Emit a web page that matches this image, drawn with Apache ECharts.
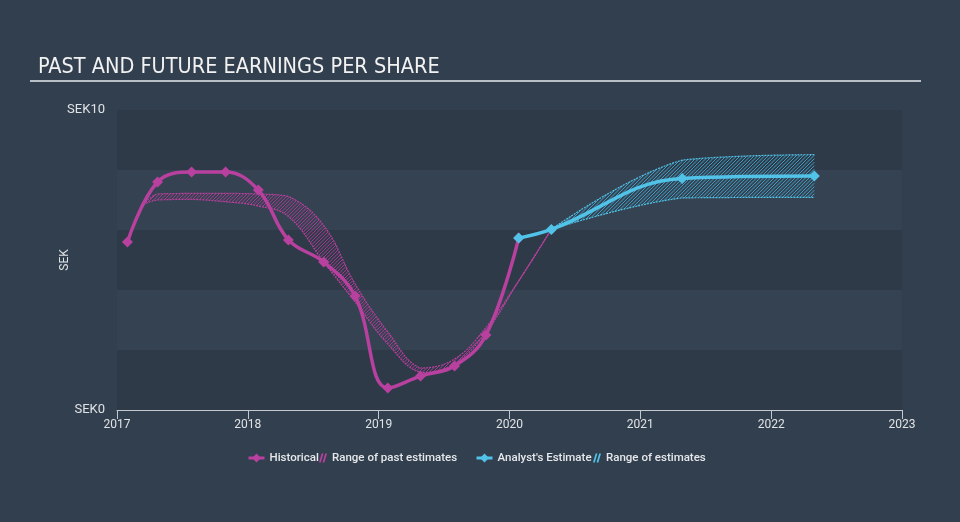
<!DOCTYPE html>
<html>
<head>
<meta charset="utf-8">
<script src="https://cdn.jsdelivr.net/npm/echarts@6/dist/echarts.min.js"></script>
<style>
html,body{margin:0;padding:0;background:#323f4e;}
#chart{width:960px;height:522px;}
</style>
</head>
<body>
<div id="chart"></div>
<script>
// ---- data ----
var histX = [2017.08, 2017.31, 2017.57, 2017.83, 2018.08, 2018.31, 2018.58, 2018.82, 2019.07, 2019.32, 2019.58, 2019.82, 2020.07];
var histY = [5.6, 7.6, 7.93, 7.93, 7.33, 5.67, 4.93, 3.8, 0.73, 1.13, 1.47, 2.5, 5.73];

var pastX  = [2017.2, 2017.31, 2017.57, 2017.83, 2018.08, 2018.31, 2018.58, 2018.82, 2019.07, 2019.32, 2019.58, 2019.82, 2020.07, 2020.32];
var pastLo = [6.85, 7.0, 7.02, 6.94, 6.8, 6.45, 4.93, 3.6, 2.2, 1.25, 1.55, 2.6, 4.3, 6.02];
var pastHi = [6.85, 7.2, 7.22, 7.22, 7.2, 7.12, 6.15, 4.2, 2.6, 1.4, 1.7, 2.75, 4.3, 6.02];

var anX = [2020.07, 2020.32, 2021.32, 2022.33];
var anY = [5.73, 6.02, 7.72, 7.8];

var futX  = [2020.32, 2021.32, 2022.33];
var futLo = [6.02, 7.07, 7.09];
var futHi = [6.02, 8.33, 8.51];

var yearTicks = [2017, 2018, 2019, 2020, 2021, 2022, 2023];
var yTickLabels = {0: 'SEK0', 10: 'SEK10'};

var MAG = '#b8409e';
var CYAN = '#52c3e8';
var SMOOTH = 0.4;

function pairs(xs, ys) { return xs.map(function (x, i) { return [x, ys[i]]; }); }

function clamp(v, a, b) { var lo = Math.min(a, b), hi = Math.max(a, b); return Math.max(lo, Math.min(hi, v)); }

// sample a smoothed curve through pixel points (same idea as ECharts line smoothing)
function smoothSample(pts, s) {
  var n = pts.length, cin = [], cout = [];
  for (var i = 0; i < n; i++) {
    var p = pts[i];
    if (i === 0 || i === n - 1) { cin[i] = p; cout[i] = p; continue; }
    var a = pts[i - 1], b = pts[i + 1];
    var vx = b[0] - a[0], vy = b[1] - a[1];
    var l0 = Math.hypot(p[0] - a[0], p[1] - a[1]), l1 = Math.hypot(b[0] - p[0], b[1] - p[1]);
    var r = (l0 + l1) ? l1 / (l0 + l1) : 0.5;
    var ci = [p[0] - vx * s * (1 - r), p[1] - vy * s * (1 - r)];
    var co = [p[0] + vx * s * r, p[1] + vy * s * r];
    ci = [clamp(ci[0], a[0], p[0]), clamp(ci[1], a[1], p[1])];
    co = [clamp(co[0], b[0], p[0]), clamp(co[1], b[1], p[1])];
    cin[i] = ci; cout[i] = co;
  }
  var out = [pts[0]];
  for (var k = 0; k < n - 1; k++) {
    var P0 = pts[k], C1 = cout[k], C2 = cin[k + 1], P3 = pts[k + 1];
    for (var t = 1; t <= 24; t++) {
      var u = t / 24, m = 1 - u;
      out.push([
        m * m * m * P0[0] + 3 * m * m * u * C1[0] + 3 * m * u * u * C2[0] + u * u * u * P3[0],
        m * m * m * P0[1] + 3 * m * m * u * C1[1] + 3 * m * u * u * C2[1] + u * u * u * P3[1]
      ]);
    }
  }
  return out;
}

// "/" hatch segments (x + y = c) inside a closed polygon, by even-odd intersection
function hatchSegments(poly, step) {
  var minC = Infinity, maxC = -Infinity;
  poly.forEach(function (p) { var c = p[0] + p[1]; if (c < minC) minC = c; if (c > maxC) maxC = c; });
  var segs = [];
  for (var c = Math.ceil(minC / step) * step; c <= maxC; c += step) {
    var hits = [];
    for (var i = 0; i < poly.length; i++) {
      var p = poly[i], q = poly[(i + 1) % poly.length];
      var fp = p[0] + p[1] - c, fq = q[0] + q[1] - c;
      if ((fp < 0 && fq >= 0) || (fp >= 0 && fq < 0)) {
        var t = fp / (fp - fq);
        hits.push([p[0] + (q[0] - p[0]) * t, p[1] + (q[1] - p[1]) * t]);
      }
    }
    hits.sort(function (a, b) { return a[0] - b[0]; });
    for (var j = 0; j + 1 < hits.length; j += 2) segs.push([hits[j], hits[j + 1]]);
  }
  return segs;
}

function bandSeries(name, xs, lo, hi, color, stripeColor) {
  return {
    name: name, type: 'custom', coordinateSystem: 'cartesian2d', z: 1,
    itemStyle: {color: color},
    data: [[xs[0], lo[0]]],
    silent: true,
    renderItem: function (params, api) {
      var loPx = xs.map(function (x, i) { return api.coord([x, lo[i]]); });
      var hiPx = xs.map(function (x, i) { return api.coord([x, hi[i]]); });
      var loS = smoothSample(loPx, SMOOTH);
      var hiS = smoothSample(hiPx, SMOOTH);
      var poly = hiS.concat(loS.slice().reverse());
      var children = hatchSegments(poly, 3.5).map(function (s) {
        return {type: 'line', shape: {x1: s[0][0], y1: s[0][1], x2: s[1][0], y2: s[1][1]},
                style: {stroke: stripeColor, lineWidth: 1}};
      });
      children.push({type: 'polyline', shape: {points: hiS}, style: {fill: null, stroke: color, lineWidth: 1.2, lineDash: [2, 1]}});
      children.push({type: 'polyline', shape: {points: loS}, style: {fill: null, stroke: color, lineWidth: 1.2, lineDash: [2, 1]}});
      return {type: 'group', children: children};
    }
  };
}

var hatchIcon = 'path://M0,10 L2,10 L5,0 L3,0 Z M4,10 L6,10 L9,0 L7,0 Z';

var chart = echarts.init(document.getElementById('chart'), null, {renderer: 'canvas'});

var series = [
  bandSeries('Range of past estimates', pastX, pastLo, pastHi, MAG, '#a63c91'),
  bandSeries('Range of estimates', futX, futLo, futHi, CYAN, '#3f9fc6'),
  {
    name: 'Historical', type: 'line', smooth: SMOOTH, z: 3,
    data: pairs(histX, histY),
    symbol: 'diamond', symbolSize: 11, showAllSymbol: true,
    lineStyle: {color: MAG, width: 3.5},
    itemStyle: {color: MAG}
  },
  {
    name: "Analyst's Estimate", type: 'line', smooth: SMOOTH, z: 4,
    data: pairs(anX, anY),
    symbol: 'diamond', symbolSize: 11,
    lineStyle: {color: CYAN, width: 3.5},
    itemStyle: {color: CYAN}
  }
];

var legendText = {color: '#e6e8eb', fontSize: 11.5, fontWeight: 500, fontFamily: 'Roboto, sans-serif'};

function legendItem(name, left, width, height, extra) {
  var item = {name: name};
  for (var k in extra) item[k] = extra[k];
  return {
    left: left, top: 452, padding: 0, itemWidth: width, itemHeight: height, itemGap: 0,
    textStyle: legendText, selectedMode: false, data: [item]
  };
}

chart.setOption({
  animation: false,
  backgroundColor: '#323f4e',
  grid: {left: 117, right: 58, top: 110, bottom: 112, containLabel: false},
  graphic: [
    {type: 'text', left: 38, top: 56, style: {text: 'PAST AND FUTURE EARNINGS PER SHARE', fill: '#f2f2f2', fontSize: 21.5, fontFamily: '"Liberation Sans Narrow", "DejaVu Sans Condensed", Roboto, sans-serif'}},
    {type: 'rect', shape: {x: 30, y: 80, width: 891, height: 2}, style: {fill: '#b9bfc6'}}
  ],
  legend: [
    legendItem('Historical', 247, 16, 11, {lineStyle: {width: 3}}),
    legendItem('Range of past estimates', 319, 8, 10, {icon: hatchIcon, itemStyle: {color: MAG}}),
    legendItem("Analyst's Estimate", 475, 16, 11, {lineStyle: {width: 3}}),
    legendItem('Range of estimates', 593, 8, 10, {icon: hatchIcon, itemStyle: {color: CYAN}})
  ],
  xAxis: {
    type: 'value', min: yearTicks[0], max: yearTicks[yearTicks.length - 1], interval: 1,
    axisLine: {show: true, lineStyle: {color: '#c4c9cf', width: 1}},
    axisTick: {show: true, length: 9, lineStyle: {color: '#c4c9cf'}},
    axisLabel: {color: '#e0e3e6', fontSize: 12, margin: 9, fontFamily: 'Roboto, sans-serif', formatter: function (v) { return String(Math.round(v)); }},
    splitLine: {show: false}
  },
  yAxis: {
    type: 'value', min: 0, max: 10, interval: 2,
    name: 'SEK', nameLocation: 'middle', nameGap: 46, nameRotate: 90, nameMoveOverlap: false,
    nameTextStyle: {color: '#e0e3e6', fontSize: 12, fontFamily: 'Roboto, sans-serif'},
    axisLine: {show: false}, axisTick: {show: false},
    axisLabel: {color: '#e0e3e6', fontSize: 13, margin: 12, fontFamily: 'Roboto, sans-serif', formatter: function (v) { return yTickLabels[v] || ''; }},
    splitLine: {show: false},
    splitArea: {show: true, areaStyle: {color: ['#2e3a48', '#354251']}}
  },
  series: series
});
</script>
</body>
</html>
